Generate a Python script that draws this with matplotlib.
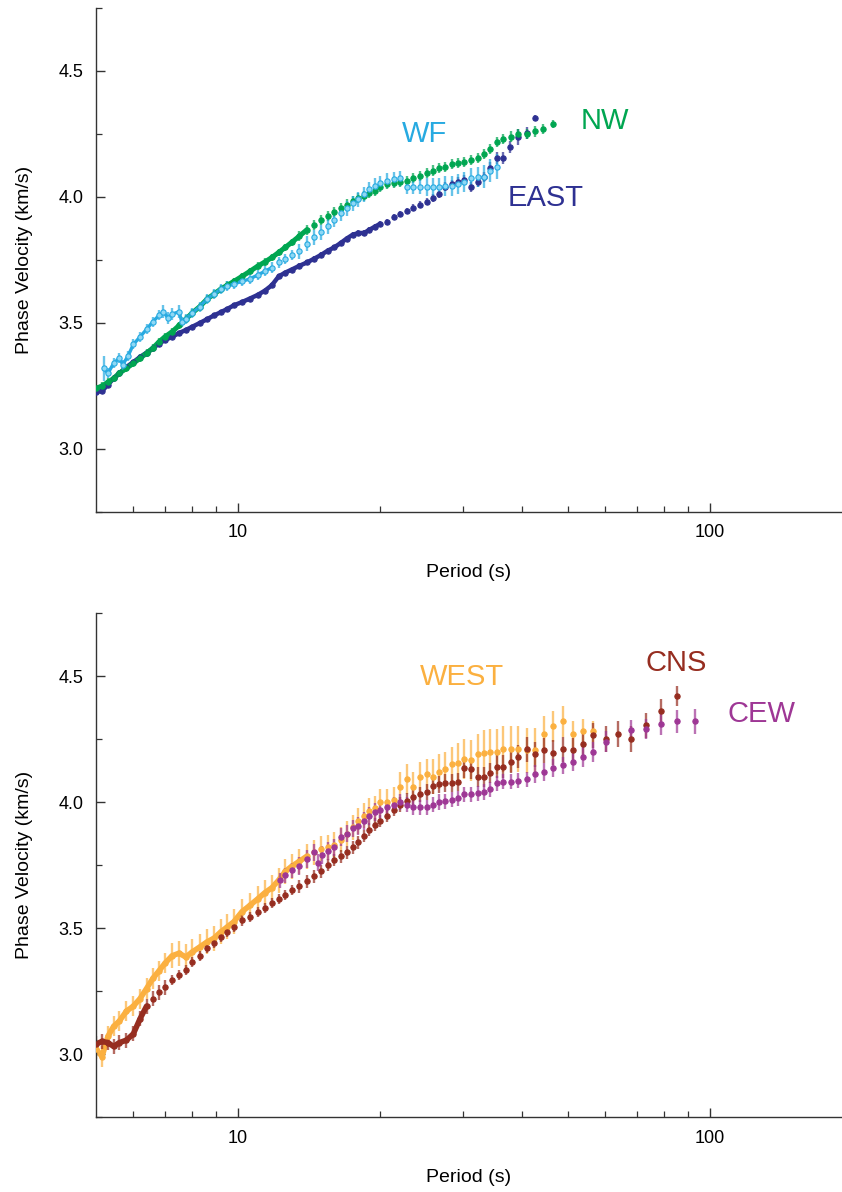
import matplotlib
matplotlib.use("Agg")
import matplotlib.pyplot as plt
from matplotlib.ticker import FixedLocator, NullFormatter, MultipleLocator

plt.rcParams["font.family"] = ["Liberation Sans", "DejaVu Sans"]

# ---- top panel: EAST, NW, WF ----
east_period = [5.0, 5.15, 5.3, 5.45, 5.6, 5.8, 6.0, 6.2, 6.4, 6.6, 6.8, 7.0,
               7.25, 7.5, 7.75, 8.0, 8.3, 8.6, 8.9, 9.2, 9.5, 9.8,
               10.2, 10.6, 11.0, 11.4, 11.8, 12.2, 12.6, 13.0,
               13.5, 14.0, 14.5, 15.0, 15.5, 16.0, 16.5, 17.0, 17.5, 18.0, 18.5, 19.0, 19.5, 20.0,
               20.7, 21.4, 22.1, 22.8, 23.5, 24.3, 25.1, 25.9, 26.7, 27.5, 28.4, 29.3, 30.2, 31.2,
               32.2, 33.2, 34.3, 35.4,
               36.5, 37.7, 39.3, 41.0, 42.7]
east_vel = [3.226, 3.23, 3.255, 3.28, 3.30, 3.325, 3.345, 3.365, 3.382, 3.40, 3.418, 3.432,
            3.445, 3.46, 3.472, 3.485, 3.50, 3.515, 3.53, 3.543, 3.556, 3.57,
            3.583, 3.597, 3.611, 3.628, 3.65, 3.685, 3.70, 3.712,
            3.727, 3.74, 3.755, 3.77, 3.787, 3.80, 3.817, 3.835, 3.85, 3.857, 3.857, 3.87, 3.882, 3.893,
            3.902, 3.92, 3.932, 3.944, 3.958, 3.97, 3.982, 3.995, 4.01, 4.04, 4.05, 4.06, 4.067, 4.04,
            4.06, 4.08, 4.115, 4.155,
            4.155, 4.198, 4.238, 4.254, 4.313]
east_err = [0.008] * 12 + [0.008] * 10 + [0.008] * 8 + [0.01] * 14 + \
           [0.012, 0.012, 0.012, 0.012, 0.015, 0.015, 0.015, 0.015, 0.015, 0.018, 0.018, 0.018,
            0.02, 0.02, 0.02, 0.02, 0.025, 0.025] + \
           [0.025, 0.025, 0.03, 0.025, 0.012]

nw_period = east_period[:62] + [36.5, 38.0, 39.3, 41.0, 42.7, 44.4, 46.6]
nw_vel = [3.24, 3.25, 3.265, 3.28, 3.30, 3.32, 3.34, 3.36, 3.38, 3.40, 3.425, 3.445,
          3.465, 3.49, 3.515, 3.54, 3.565, 3.595, 3.615, 3.635, 3.65, 3.665,
          3.685, 3.705, 3.725, 3.742, 3.76, 3.78, 3.80, 3.82,
          3.845, 3.87, 3.89, 3.91, 3.925, 3.94, 3.955, 3.97, 3.985, 3.995, 4.005, 4.015, 4.025, 4.04,
          4.05, 4.055, 4.06, 4.065, 4.075, 4.085, 4.095, 4.105, 4.115, 4.12, 4.13, 4.135, 4.14, 4.145,
          4.155, 4.17, 4.19, 4.22,
          4.23, 4.24, 4.25, 4.25, 4.26, 4.27, 4.29]
nw_err = [0.015] * 30 + [0.02] * 14 + [0.02] * 18 + [0.02, 0.02, 0.02, 0.02, 0.02, 0.02, 0.015]

wf_period = [5.2, 5.3, 5.45, 5.6, 5.7, 5.85, 6.0, 6.2, 6.4, 6.6, 6.8, 6.95, 7.1, 7.25, 7.5,
             7.6, 7.75, 8.0, 8.3, 8.6, 8.9, 9.2, 9.5, 9.8] + east_period[22:62]
wf_vel = [3.32, 3.30, 3.34, 3.36, 3.335, 3.37, 3.415, 3.445, 3.475, 3.505, 3.53, 3.545, 3.52, 3.535, 3.545,
          3.505, 3.515, 3.54, 3.565, 3.595, 3.615, 3.635, 3.645, 3.655,
          3.665, 3.675, 3.69, 3.705, 3.72, 3.74, 3.755, 3.77,
          3.785, 3.815, 3.84, 3.86, 3.885, 3.91, 3.935, 3.955, 3.975, 3.99, 4.01, 4.03, 4.045, 4.055,
          4.065, 4.07, 4.075, 4.04, 4.04, 4.04, 4.04, 4.04, 4.04, 4.045, 4.045, 4.05, 4.06, 4.075,
          4.08, 4.08, 4.105, 4.12]
wf_err = [0.05, 0.02, 0.02, 0.02, 0.02, 0.02, 0.02, 0.02, 0.02, 0.02, 0.02, 0.025, 0.025, 0.025, 0.025] + \
         [0.02] * 9 + [0.02] * 8 + [0.03] * 14 + \
         [0.03, 0.03, 0.03, 0.03, 0.03, 0.03, 0.035, 0.035, 0.035, 0.04, 0.04, 0.04,
          0.04, 0.04, 0.04, 0.045, 0.045, 0.05]

# ---- bottom panel: WEST, CNS, CEW ----
cns_period = east_period[:62] + [36.5, 38.0, 39.3, 41.0, 42.7, 44.6, 46.6, 48.9, 51.3, 53.9,
                                 56.6, 60.3, 63.9, 68.1, 73.2, 78.8, 85.2]
cns_vel = [3.04, 3.05, 3.045, 3.03, 3.045, 3.055, 3.08, 3.14, 3.19, 3.22, 3.245, 3.265,
           3.295, 3.315, 3.335, 3.365, 3.39, 3.42, 3.44, 3.465, 3.485, 3.505,
           3.53, 3.545, 3.565, 3.58, 3.60, 3.615, 3.63, 3.65,
           3.665, 3.685, 3.705, 3.725, 3.75, 3.77, 3.785, 3.80, 3.82, 3.84, 3.865, 3.89, 3.91, 3.925,
           3.945, 3.97, 3.99, 4.005, 4.02, 4.03, 4.04, 4.065, 4.07, 4.075, 4.075, 4.08, 4.135, 4.13,
           4.10, 4.10, 4.115, 4.14,
           4.14, 4.16, 4.18, 4.21, 4.19, 4.205, 4.195, 4.21, 4.205, 4.23,
           4.265, 4.25, 4.27, 4.25, 4.305, 4.36, 4.42]
cns_err = [0.03] * 12 + [0.02] * 10 + [0.02] * 8 + [0.025] * 14 + \
          [0.025, 0.025, 0.03, 0.03, 0.03, 0.03, 0.03, 0.035, 0.035, 0.035, 0.035, 0.035,
           0.04, 0.04, 0.04, 0.04, 0.04, 0.045] + \
          [0.045, 0.045, 0.045, 0.05, 0.05, 0.05, 0.05, 0.05, 0.05, 0.05,
           0.05, 0.05, 0.05, 0.05, 0.05, 0.05, 0.04]

west_period = east_period[:62] + [36.5, 38.0, 39.3, 41.0, 42.7, 44.6, 46.6, 48.9, 51.3, 53.9, 56.6]
west_vel = [3.02, 2.99, 3.07, 3.11, 3.13, 3.17, 3.19, 3.22, 3.26, 3.30, 3.33, 3.36,
            3.39, 3.40, 3.385, 3.405, 3.425, 3.445, 3.46, 3.485, 3.505, 3.525,
            3.565, 3.59, 3.615, 3.64, 3.66, 3.69, 3.725, 3.745,
            3.765, 3.785, 3.80, 3.815, 3.82, 3.83, 3.85, 3.875, 3.90, 3.925, 3.945, 3.965, 3.975, 4.00,
            4.00, 4.01, 4.06, 4.09, 4.06, 4.10, 4.11, 4.10, 4.12, 4.13, 4.15, 4.155, 4.17, 4.165,
            4.19, 4.195, 4.20, 4.20,
            4.21, 4.21, 4.21, 4.205, 4.205, 4.27, 4.30, 4.32, 4.27, 4.28, 4.28]
west_err = [0.04] * 12 + [0.05] * 10 + [0.05] * 8 + [0.05] * 14 + \
           [0.05, 0.05, 0.06, 0.06, 0.06, 0.06, 0.06, 0.07, 0.07, 0.07, 0.07, 0.08,
            0.08, 0.08, 0.08, 0.09, 0.09, 0.09] + \
           [0.09, 0.09, 0.09, 0.09, 0.09, 0.07, 0.06, 0.06, 0.05, 0.05, 0.04]

cew_period = [12.3, 12.6, 13.0,
              13.5, 14.0, 14.5, 14.8, 15.1, 15.5, 16.0, 16.5, 17.0, 17.5, 18.0, 18.5, 19.0, 19.5, 20.0] + \
             east_period[44:62] + \
             [36.5, 38.0, 39.3, 41.0, 42.7, 44.6, 46.6, 48.9, 51.3, 53.9, 56.6, 60.3,
              68.1, 73.2, 78.8, 85.2, 93.0]
cew_vel = [3.69, 3.71, 3.73,
           3.745, 3.775, 3.80, 3.76, 3.79, 3.805, 3.82, 3.86, 3.875, 3.895, 3.905, 3.925, 3.945, 3.96, 3.97,
           3.98, 3.99, 4.00, 3.99, 3.98, 3.98, 3.98, 3.99, 4.00, 4.003, 4.01, 4.015, 4.03, 4.03,
           4.035, 4.04, 4.05, 4.075,
           4.08, 4.08, 4.085, 4.09, 4.11, 4.12, 4.135, 4.145, 4.16, 4.18, 4.20, 4.24,
           4.285, 4.29, 4.31, 4.32, 4.32]
cew_err = [0.03] * 3 + [0.035] * 15 + [0.03] * 18 + \
          [0.03, 0.03, 0.03, 0.03, 0.035, 0.035, 0.035, 0.035, 0.035, 0.04, 0.04, 0.04,
           0.04, 0.04, 0.045, 0.045, 0.05]

# label text, colour, and where it sits (period, velocity)
top_labels = [("WF", "#27AAE1", 24.9, 4.25), ("NW", "#00A651", 59.9, 4.30),
              ("EAST", "#2E3192", 44.8, 3.995)]
bottom_labels = [("WEST", "#FBB040", 29.9, 4.495), ("CNS", "#962D20", 84.8, 4.55),
                 ("CEW", "#9E3795", 128.9, 4.35)]


def draw_series(ax, period, vel, err, color, face=None, band_until=16.0, band_lw=2.6):
    # at short periods the measurements are so dense they merge into a band
    short = [(p, v) for p, v in zip(period, vel) if p <= band_until]
    if len(short) > 1:
        ax.plot([p for p, v in short], [v for p, v in short], "-",
                color=color, lw=band_lw, solid_capstyle="round", zorder=2)
    ax.errorbar(period, vel, yerr=err, fmt="none", ecolor=color,
                elinewidth=1.7, alpha=0.7, capsize=0, zorder=2)
    ax.plot(period, vel, "o", ms=3.8, color=color,
            mfc=face if face else color, mew=0.8, zorder=3)


def style_axes(ax):
    ax.set_xscale("log")
    ax.set_xlim(5.0, 190)
    ax.set_ylim(2.75, 4.75)
    ax.xaxis.set_major_locator(FixedLocator([10, 100]))
    ax.xaxis.set_major_formatter(plt.FuncFormatter(lambda v, p: f"{v:g}"))
    ax.xaxis.set_minor_locator(FixedLocator([6, 7, 8, 9, 20, 30, 40, 50, 60, 70, 80, 90]))
    ax.xaxis.set_minor_formatter(NullFormatter())
    ax.yaxis.set_major_locator(MultipleLocator(0.5))
    ax.yaxis.set_minor_locator(MultipleLocator(0.25))
    ax.yaxis.set_major_formatter(plt.FuncFormatter(lambda v, p: f"{v:.1f}"))
    ax.tick_params(which="major", direction="in", length=6.5, width=1.0,
                   labelsize=13, pad=9, color="#333333")
    ax.tick_params(which="minor", direction="in", length=4, width=0.9, color="#333333")
    for side in ("top", "right"):
        ax.spines[side].set_visible(False)
    for side in ("left", "bottom"):
        ax.spines[side].set_color("#333333")
        ax.spines[side].set_linewidth(1.0)
    ax.set_xlabel("Period (s)", fontsize=14, labelpad=16)
    ax.set_ylabel("Phase Velocity (km/s)", fontsize=14, labelpad=18)


fig = plt.figure(figsize=(8.42, 11.92), dpi=100)
ax_top = fig.add_axes([0.114, 0.5705, 0.885, 0.4228])
ax_bot = fig.add_axes([0.114, 0.0629, 0.885, 0.4228])

draw_series(ax_top, east_period, east_vel, east_err, "#2E3192", band_until=20.0, band_lw=3.2)
draw_series(ax_top, nw_period, nw_vel, nw_err, "#00A651", band_until=14.0, band_lw=3.6)
draw_series(ax_top, wf_period, wf_vel, wf_err, "#27AAE1", face="#8ED8F5", band_until=12.0, band_lw=2.4)

draw_series(ax_bot, west_period, west_vel, west_err, "#FBB040", band_until=14.0, band_lw=4.0)
draw_series(ax_bot, cns_period, cns_vel, cns_err, "#962D20", band_until=6.4, band_lw=4.0)
draw_series(ax_bot, cew_period, cew_vel, cew_err, "#9E3795", band_until=0.0)

for ax, labels in ((ax_top, top_labels), (ax_bot, bottom_labels)):
    style_axes(ax)
    for text, color, px, py in labels:
        ax.text(px, py, text, color=color, fontsize=21, ha="center", va="center")

fig.savefig("out.png", dpi=100)
